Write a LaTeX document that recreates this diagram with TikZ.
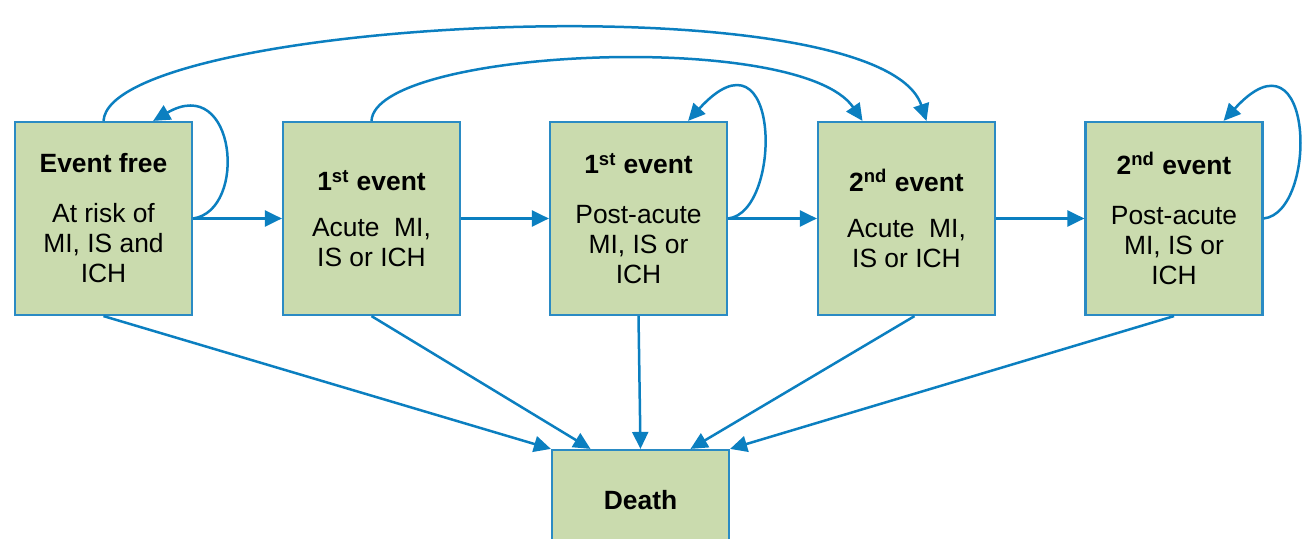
\documentclass[tikz,border=0pt]{standalone}
\usepackage{fontspec}
\setmainfont{Liberation Sans}
\usepackage{tikz}
\usetikzlibrary{arrows.meta, positioning}

\definecolor{boxfill}{HTML}{CADBAE}
\definecolor{boxline}{HTML}{2A8BC4}
\definecolor{arrowblue}{HTML}{0B7FC0}

\begin{document}
\begin{tikzpicture}[x=0.5pt, y=-0.5pt,
    state/.style={draw=boxline, fill=boxfill, line width=1.1pt, minimum width=88.5pt, minimum height=96.5pt, inner sep=2pt, align=center, font=\fontsize{13.2}{15}\selectfont},
    link/.style={draw=arrowblue, line width=1.25pt, -{Triangle[length=8.5pt,width=8pt]}}]

    \useasboundingbox (0,0) rectangle (1307,539);

    \node at (103.5, 218.5) (E0) [state] {\textbf{Event free}\\[10pt]At risk of\\MI, IS and\\ICH};
    \node at (371.5, 218.5) (A1) [state] {\textbf{1\textsuperscript{st} event}\\[8pt]Acute~~MI,\\IS or ICH};
    \node at (638.5, 218.5) (P1) [state] {\textbf{1\textsuperscript{st} event}\\[10pt]Post-acute\\MI, IS or\\ICH};
    \node at (906.5, 218.5) (A2) [state] {\textbf{2\textsuperscript{nd} event}\\[8pt]Acute~~MI,\\IS or ICH};
    \node at (1174, 218.5) (P2) [state] {\textbf{2\textsuperscript{nd} event}\\[10pt]Post-acute\\MI, IS or\\ICH};

    \node at (640.5, 500) (D) [state, minimum height=50pt] {\textbf{Death}};

    % forward steps
    \path[link] (E0.east) -- (A1.west);
    \path[link] (A1.east) -- (P1.west);
    \path[link] (P1.east) -- (A2.west);
    \path[link] (A2.east) -- (P2.west);

    % stay in state
    \path[link] (E0.east) .. controls +(55,-8) and +(83,-48) .. ([xshift=-20pt]E0.north east);
    \path[link] (P1.east) .. controls +(55,-6) and +(93,-102) .. ([xshift=-20pt]P1.north east);
    \path[link] (P2.east) .. controls +(55,-6) and +(91,-100) .. ([xshift=-20pt]P2.north east);

    % straight to a 2nd event
    \path[link] (E0.north) .. controls +(6.5,-102) and +(-47,-142) .. ([xshift=10pt]A2.north);
    \path[link] (A1.north) .. controls +(3.5,-72) and +(-63,-92) .. ([xshift=-22pt]A2.north);

    % death
    \path[link] (E0.south) -- (D.north west);
    \path[link] (A1.south) -- ([xshift=-25pt]D.north);
    \path[link] (P1.south) -- (D.north);
    \path[link] ([xshift=4pt]A2.south) -- ([xshift=25pt]D.north);
    \path[link] (P2.south) -- (D.north east);

\end{tikzpicture}
\end{document}
